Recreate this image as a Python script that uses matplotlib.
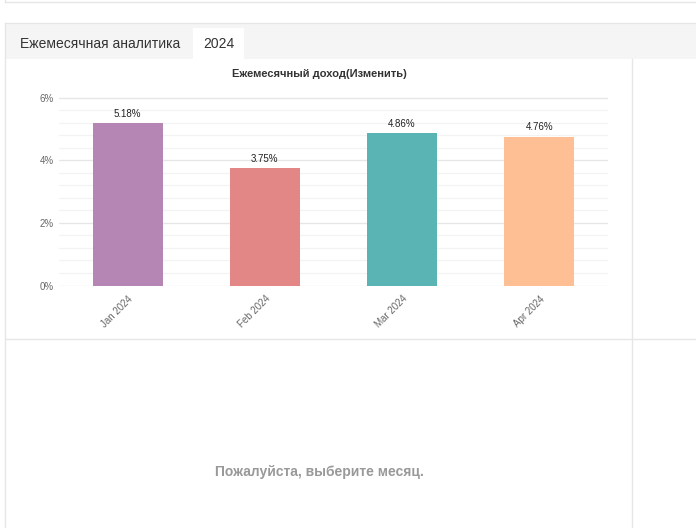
import matplotlib
matplotlib.use("Agg")
import matplotlib.pyplot as plt
from matplotlib.patches import Rectangle
from matplotlib.ticker import MultipleLocator, FuncFormatter

months = ["Jan 2024", "Feb 2024", "Mar 2024", "Apr 2024"]
income_change = [5.18, 3.75, 4.86, 4.76]
bar_colors = ["#b586b4", "#e28785", "#5bb4b4", "#ffbf94"]
tab_labels = ["Ежемесячная аналитика", "2024"]
chart_title = "Ежемесячный доход(Изменить)"
placeholder = "Пожалуйста, выберите месяц."

plt.rcParams["font.family"] = ["Liberation Sans", "DejaVu Sans"]

W, H = 696, 528
fig = plt.figure(figsize=(W / 100, H / 100), dpi=100)
fig.patch.set_facecolor("white")

# page chrome, drawn in pixel coordinates
ui = fig.add_axes([0, 0, 1, 1])
ui.set_xlim(0, W)
ui.set_ylim(H, 0)
ui.axis("off")

border = "#e6e6e6"
ui.plot([5, W], [2, 2], color=border, lw=1)
ui.plot([5, 5], [0, 2], color=border, lw=1)

ui.add_patch(Rectangle((5, 23), W - 5, 36, facecolor="#f5f5f5", edgecolor="none"))
ui.add_patch(Rectangle((193, 28), 51, 31, facecolor="white", edgecolor="none"))
ui.plot([5, W], [23, 23], color=border, lw=1)
ui.plot([5, 5], [23, H], color=border, lw=1)
ui.plot([632, 632], [59, H], color=border, lw=1)
ui.plot([5, W], [339, 339], color=border, lw=1)

ui.text(20, 44, tab_labels[0], fontsize=10, color="#333333", va="center", ha="left")
ui.text(203, 44, tab_labels[1], fontsize=10, color="#333333", va="center", ha="left")
ui.text(319, 74, chart_title, fontsize=8, fontweight="bold", color="#333333",
        ha="center", va="center")
ui.text(319, 472, placeholder, fontsize=10, fontweight="bold", color="#999999",
        ha="center", va="center")

# bar chart
ymax = 6.1
px_per_unit = 31.3
y0 = 285.5
top_px = y0 - ymax * px_per_unit
ax = fig.add_axes([59 / W, (H - y0) / H, (608 - 59) / W, (y0 - top_px) / H])
ax.set_facecolor("none")

x = range(len(months))
bars = ax.bar(x, income_change, width=0.51, color=bar_colors, zorder=3)
for b, v in zip(bars, income_change):
    ax.annotate(f"{v:.2f}%", (b.get_x() + b.get_width() / 2, v),
                xytext=(0, 3), textcoords="offset points",
                ha="center", va="bottom", fontsize=7, color="#222222")

ax.set_xlim(-0.5, 3.5)
ax.set_ylim(0, ymax)
ax.yaxis.set_major_locator(MultipleLocator(2))
ax.yaxis.set_minor_locator(MultipleLocator(0.4))
ax.yaxis.set_major_formatter(FuncFormatter(lambda v, p: f"{v:.0f}%"))
ax.grid(axis="y", which="major", color="#e6e6e6", lw=1, zorder=0)
ax.grid(axis="y", which="minor", color="#f3f3f3", lw=0.9, zorder=0)
ax.grid(axis="x", visible=False)
for s in ax.spines.values():
    s.set_visible(False)
ax.tick_params(axis="both", which="both", length=0, labelsize=7, labelcolor="#666666")
ax.tick_params(axis="y", pad=4)
ax.set_xticks(list(x))
ax.set_xticklabels(months, rotation=45, ha="right", rotation_mode="anchor")
ax.tick_params(axis="x", pad=6)

fig.savefig("out.png", dpi=100, facecolor="white")
